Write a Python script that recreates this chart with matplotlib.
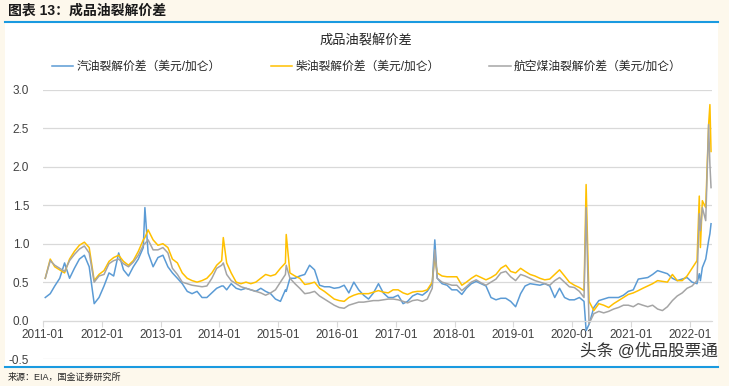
import numpy as np
import pandas as pd
import matplotlib
matplotlib.use('Agg')
import matplotlib.pyplot as plt
import matplotlib.dates as mdates
from matplotlib.patches import Rectangle
from matplotlib.lines import Line2D

plt.rcParams['font.family'] = ['Liberation Sans', 'Noto Sans CJK SC', 'DejaVu Sans']

# monthly readings (mid-month), 2011-01 .. 2022-02
month_dates = pd.date_range('2011-01-01', '2022-02-01', freq='MS') + pd.Timedelta(days=14)

gasoline = [
    0.30, 0.35, 0.45, 0.55, 0.75, 0.55, 0.68, 0.80, 0.85, 0.70, 0.22, 0.30,
    0.45, 0.62, 0.58, 0.88, 0.66, 0.58, 0.70, 0.80, 0.95, 0.88, 0.70, 0.82,
    0.85, 0.70, 0.62, 0.55, 0.48, 0.38, 0.35, 0.38, 0.30, 0.30, 0.36, 0.42,
    0.45, 0.40, 0.48, 0.42, 0.40, 0.42, 0.40, 0.38, 0.42, 0.38, 0.35, 0.28,
    0.25, 0.40, 0.55, 0.55, 0.58, 0.60, 0.72, 0.66, 0.46, 0.44, 0.44, 0.42,
    0.43, 0.46, 0.36, 0.50, 0.40, 0.33, 0.28, 0.36, 0.48, 0.36, 0.30, 0.30,
    0.33, 0.22, 0.25, 0.32, 0.35, 0.33, 0.38, 0.48, 0.55, 0.48, 0.46, 0.40,
    0.40, 0.34, 0.42, 0.48, 0.51, 0.48, 0.45, 0.30, 0.27, 0.29, 0.29, 0.25,
    0.18, 0.35, 0.45, 0.48, 0.47, 0.46, 0.48, 0.45, 0.30, 0.42, 0.30, 0.27,
    0.27, 0.30, 0.25, -0.05, 0.17, 0.26, 0.28, 0.30, 0.30, 0.30, 0.33, 0.38,
    0.40, 0.54, 0.55, 0.56, 0.60, 0.65, 0.63, 0.61, 0.55, 0.52, 0.54, 0.56,
    0.50, 0.48,
]
diesel = [
    0.55, 0.80, 0.70, 0.66, 0.62, 0.80, 0.90, 0.98, 1.02, 0.95, 0.52, 0.60,
    0.65, 0.77, 0.82, 0.85, 0.77, 0.72, 0.78, 0.90, 1.05, 1.18, 1.05, 0.98,
    1.00, 0.95, 0.80, 0.75, 0.62, 0.55, 0.52, 0.50, 0.52, 0.55, 0.62, 0.72,
    0.78, 0.75, 0.62, 0.50, 0.48, 0.50, 0.48, 0.50, 0.55, 0.60, 0.58, 0.60,
    0.68, 0.75, 0.62, 0.58, 0.55, 0.47, 0.48, 0.50, 0.42, 0.38, 0.33, 0.28,
    0.26, 0.25, 0.30, 0.33, 0.35, 0.35, 0.35, 0.37, 0.39, 0.37, 0.36, 0.40,
    0.40, 0.36, 0.34, 0.37, 0.38, 0.38, 0.40, 0.50, 0.62, 0.58, 0.57, 0.57,
    0.57, 0.46, 0.50, 0.55, 0.59, 0.56, 0.53, 0.56, 0.60, 0.68, 0.72, 0.64,
    0.62, 0.68, 0.64, 0.60, 0.58, 0.55, 0.53, 0.54, 0.60, 0.66, 0.58, 0.50,
    0.46, 0.43, 0.39, 0.25, 0.13, 0.22, 0.20, 0.17, 0.22, 0.26, 0.30, 0.34,
    0.36, 0.39, 0.42, 0.45, 0.48, 0.52, 0.51, 0.50, 0.60, 0.52, 0.52, 0.58,
    0.68, 0.78,
]
jet = [
    0.55, 0.78, 0.72, 0.68, 0.64, 0.78, 0.86, 0.93, 0.97, 0.88, 0.50, 0.58,
    0.60, 0.74, 0.78, 0.80, 0.74, 0.70, 0.76, 0.85, 0.98, 1.05, 0.92, 0.92,
    0.95, 0.88, 0.68, 0.60, 0.50, 0.48, 0.46, 0.45, 0.44, 0.45, 0.55, 0.68,
    0.72, 0.60, 0.52, 0.48, 0.44, 0.42, 0.40, 0.38, 0.36, 0.33, 0.36, 0.40,
    0.50, 0.60, 0.55, 0.48, 0.42, 0.35, 0.36, 0.38, 0.32, 0.28, 0.24, 0.20,
    0.17, 0.16, 0.20, 0.22, 0.24, 0.24, 0.25, 0.26, 0.26, 0.27, 0.28, 0.28,
    0.27, 0.25, 0.23, 0.26, 0.27, 0.25, 0.28, 0.42, 0.55, 0.50, 0.48, 0.46,
    0.46, 0.39, 0.44, 0.50, 0.53, 0.49, 0.46, 0.50, 0.54, 0.62, 0.64, 0.57,
    0.52, 0.60, 0.58, 0.55, 0.52, 0.50, 0.48, 0.46, 0.52, 0.56, 0.50, 0.44,
    0.43, 0.38, 0.30, -0.04, 0.09, 0.12, 0.10, 0.12, 0.15, 0.17, 0.20, 0.20,
    0.18, 0.22, 0.20, 0.18, 0.20, 0.15, 0.13, 0.18, 0.26, 0.32, 0.36, 0.42,
    0.45, 0.52,
]

# spikes and the 2022 run-up
extra_dates = ['2012-09-25', '2014-01-25', '2015-02-20', '2017-08-31', '2020-03-28',
               '2022-03-01', '2022-03-08', '2022-03-20', '2022-04-10', '2022-04-28',
               '2022-05-06', '2022-05-13']
extra_gasoline = [1.47, 0.45, 0.38, 1.05, -0.13, 0.61, 0.52, 0.69, 0.80, 1.04, 1.13, 1.26]
extra_diesel = [1.08, 1.08, 1.12, 0.83, 1.77, 1.62, 0.95, 1.56, 1.47, 2.55, 2.81, 2.20]
extra_jet = [1.00, 0.75, 0.72, 0.92, 1.47, 1.39, 1.17, 1.47, 1.30, 2.55, 2.03, 1.73]

labels = ['汽油裂解价差（美元/加仑）', '柴油裂解价差（美元/加仑）', '航空煤油裂解价差（美元/加仑）']
colors = ['#5B9BD5', '#FFC000', '#A5A5A5']

df = pd.DataFrame({'date': list(month_dates), 'gasoline': gasoline, 'diesel': diesel, 'jet': jet})
extra = pd.DataFrame({'date': pd.to_datetime(extra_dates), 'gasoline': extra_gasoline,
                      'diesel': extra_diesel, 'jet': extra_jet})
df = pd.concat([df, extra]).sort_values('date')

fig = plt.figure(figsize=(7.29, 3.86), dpi=100)
fig.patch.set_facecolor('#FDF8EC')
W, H = 729, 386

# white panel and blue rules
fig.add_artist(Rectangle((5 / W, 1 - 367 / H), 713 / W, 345 / H, transform=fig.transFigure,
                         facecolor='white', edgecolor='none', zorder=0))
for yy in (22, 367):
    fig.add_artist(Line2D([5 / W, 718 / W], [1 - yy / H, 1 - yy / H], transform=fig.transFigure,
                          color='#1A9AE0', lw=1.5))

fig.text(8 / W, 1 - 11 / H, '图表 13：成品油裂解价差', fontsize=10, fontweight='bold',
         va='center', ha='left', color='#1a1a1a')
fig.text(366 / W, 1 - 41 / H, '成品油裂解价差', fontsize=9.5, va='center', ha='center', color='#262626')
fig.text(8 / W, 1 - 377 / H, '来源：EIA，国金证券研究所', fontsize=6.5, va='center', ha='left', color='#262626')

ax = fig.add_axes([43 / W, 1 - 359 / H, (712 - 43) / W, (359 - 90) / H])
ax.set_facecolor('none')

for col, lab, c in zip(['gasoline', 'diesel', 'jet'], labels, colors):
    ax.plot(df['date'], df[col], color=c, lw=1.1, label=lab)

ax.set_ylim(-0.5, 3.0)
ax.set_yticks(np.arange(-0.5, 3.01, 0.5))
ax.yaxis.set_major_formatter(matplotlib.ticker.FormatStrFormatter('%.1f'))
ax.set_xlim(pd.Timestamp('2011-01-01'), pd.Timestamp('2022-05-19'))
ax.xaxis.set_major_locator(mdates.YearLocator())
ax.xaxis.set_major_formatter(mdates.DateFormatter('%Y-%m'))

ax.grid(axis='y', color='#D9D9D9', lw=0.9)
ax.set_axisbelow(True)
for s in ['top', 'right', 'left']:
    ax.spines[s].set_visible(False)
ax.spines['bottom'].set_position(('data', 0))
ax.spines['bottom'].set_color('#D9D9D9')
ax.tick_params(axis='x', direction='out', length=4, color='#D9D9D9', labelsize=8.5,
               labelcolor='#404040', pad=2)
ax.tick_params(axis='y', length=0, labelsize=8.5, labelcolor='#404040', pad=10)

ax.legend(loc='center left', bbox_to_anchor=(52 / W, 1 - 67 / H), bbox_transform=fig.transFigure,
          ncol=3, frameon=False, fontsize=8.5, handlelength=1.8, handletextpad=0.3,
          columnspacing=4.2, borderaxespad=0, borderpad=0, labelcolor='#262626')

fig.text(718 / W, 1 - 351 / H, '头条 @优品股票通', fontsize=12, ha='right', va='center', color='#333333')

fig.savefig('out.png', dpi=100, facecolor=fig.get_facecolor())
